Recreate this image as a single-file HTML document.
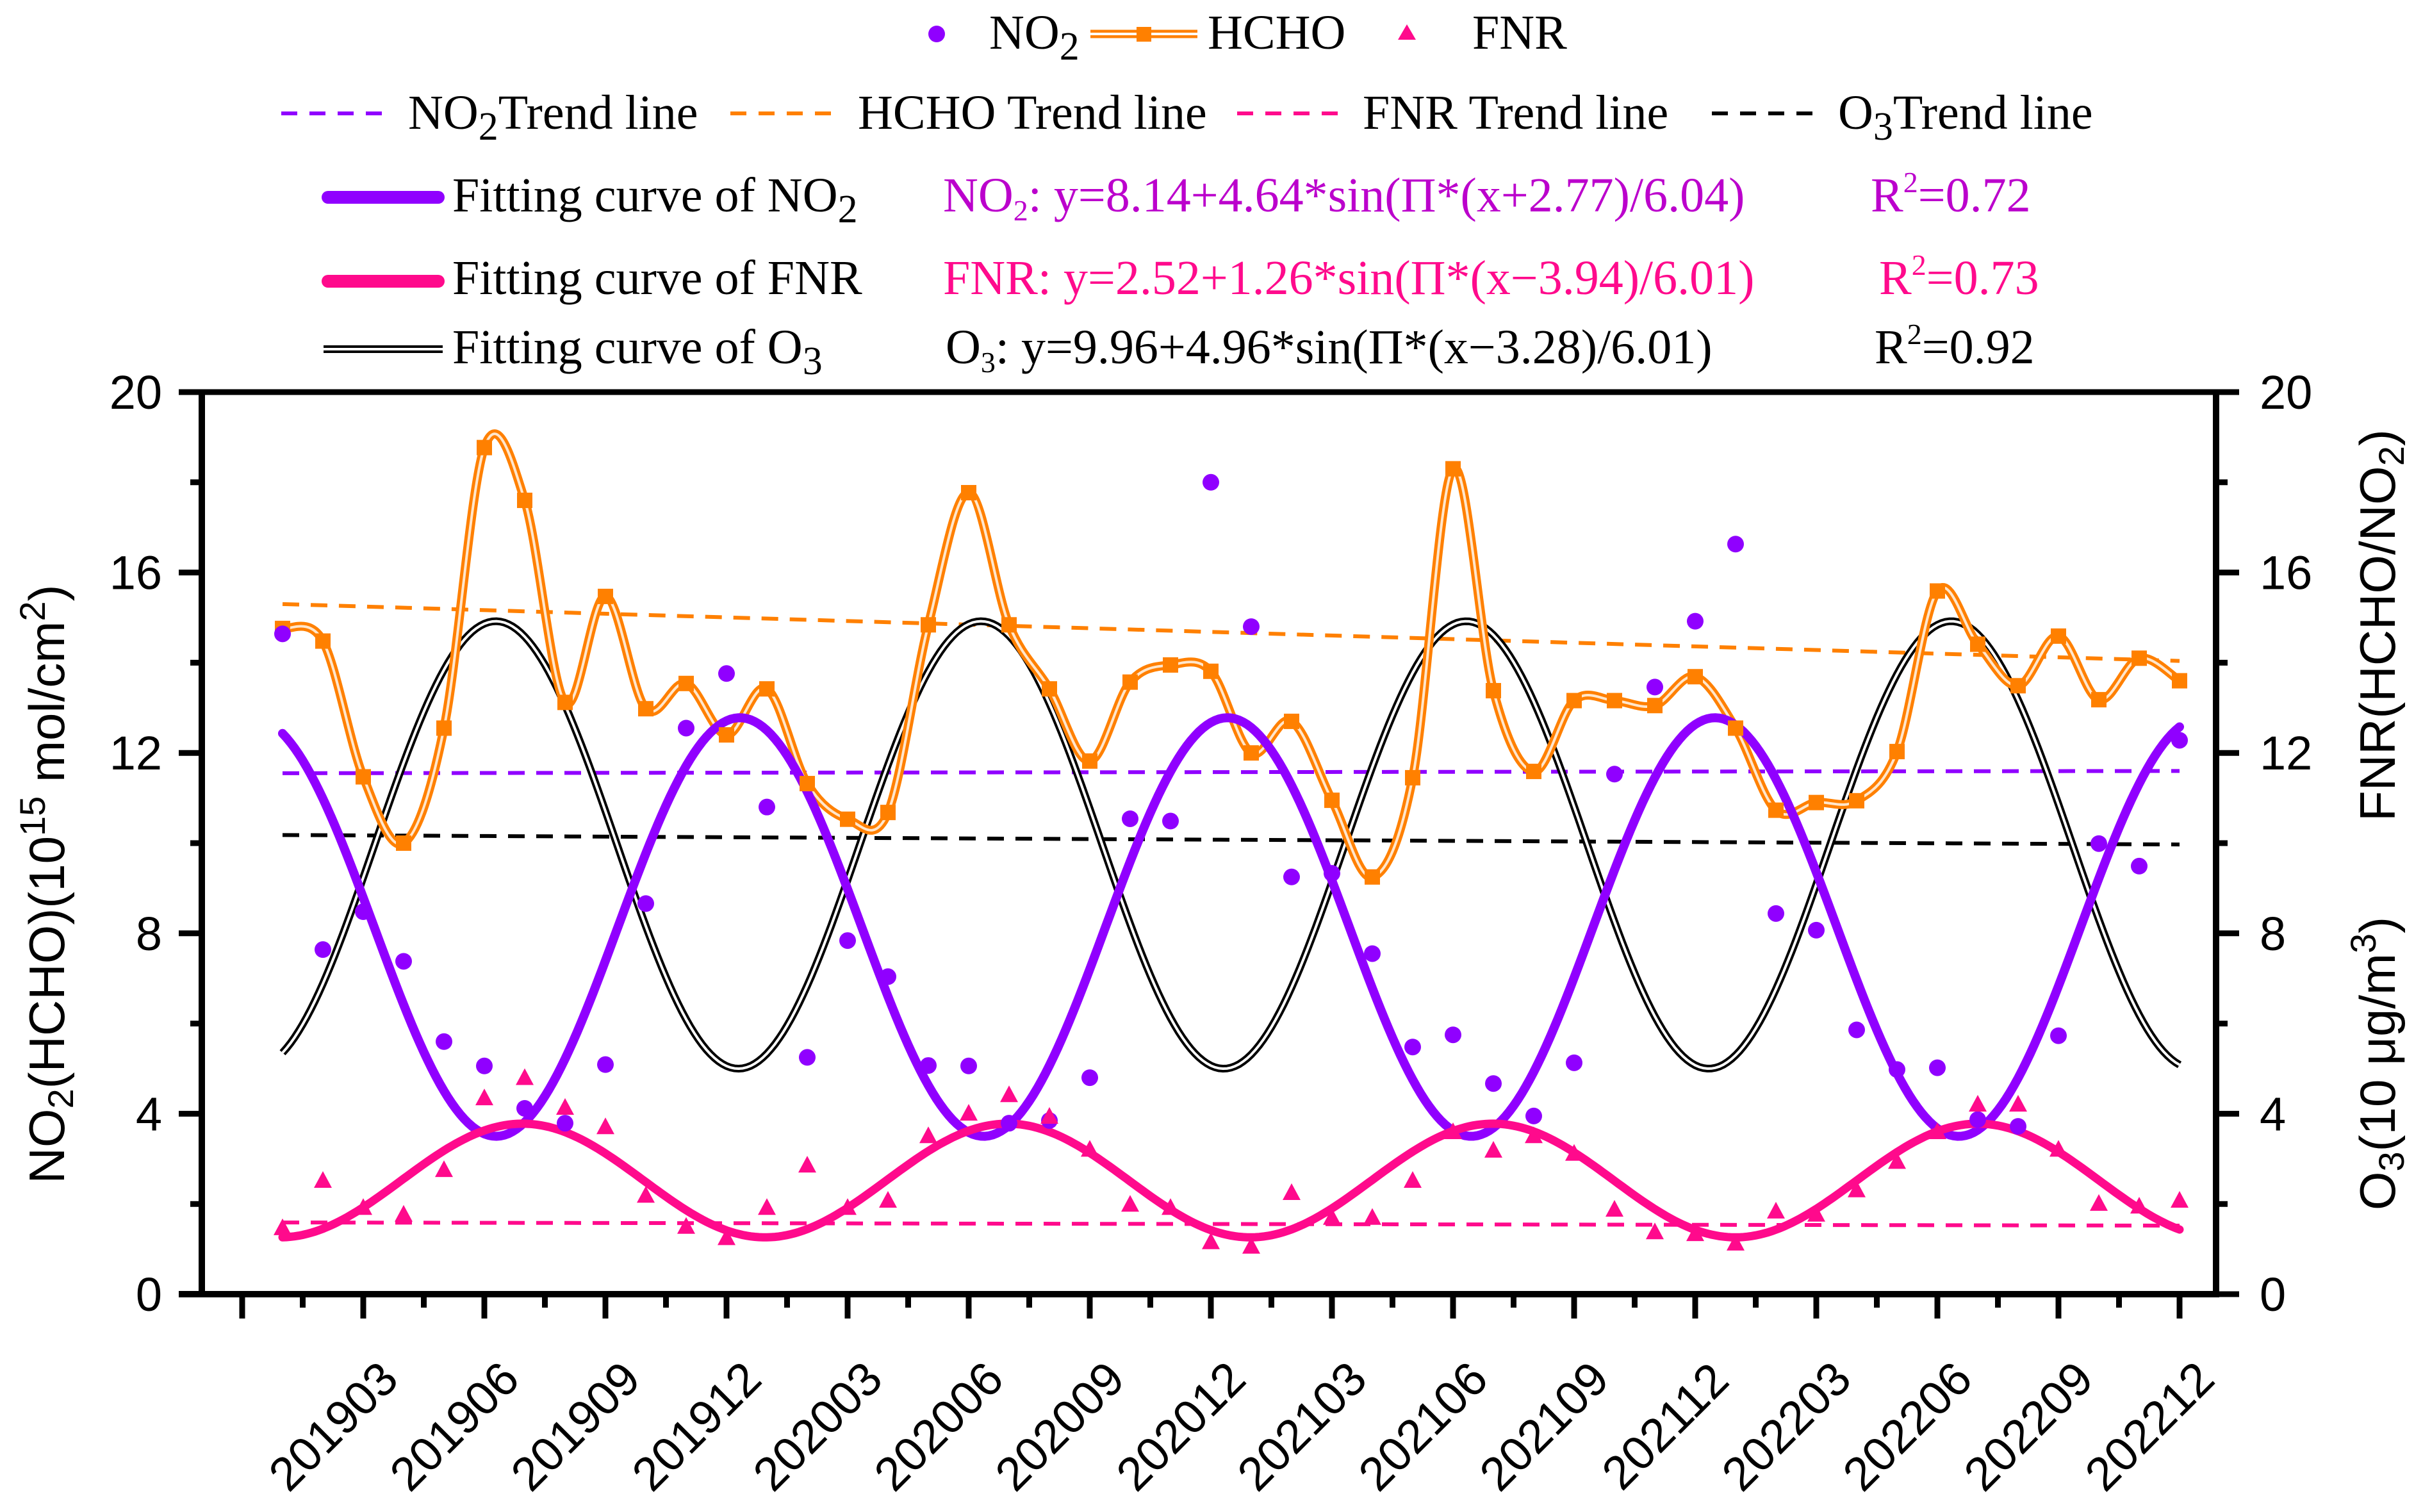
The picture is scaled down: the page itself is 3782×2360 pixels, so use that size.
<!DOCTYPE html>
<html><head><meta charset="utf-8"><style>
html,body{margin:0;padding:0;background:#fff;}
svg{display:block;}
text{font-family:"Liberation Serif",serif;}
.sans{font-family:"Liberation Sans",sans-serif;}
</style></head><body>
<svg id="chart" xmlns="http://www.w3.org/2000/svg" width="3782" height="2360" viewBox="0 0 3782 2360">
<rect width="3782" height="2360" fill="#fff"/>
<g id="legend" font-size="76">
  <g>
    <circle cx="1462" cy="53" r="13" fill="#9000ff"/>
    <text x="1544" y="76">NO<tspan font-size="62" dy="17">2</tspan></text>
  </g>
  <g>
    <line x1="1702" y1="53" x2="1869" y2="53" stroke="#ff8000" stroke-width="13"/>
    <line x1="1702" y1="53" x2="1869" y2="53" stroke="#fff" stroke-width="4"/>
    <rect x="1774" y="42" width="23" height="23" fill="#ff8000"/>
    <text x="1885" y="76">HCHO</text>
  </g>
  <g>
    <polygon points="2196,38 2210,62 2182,62" fill="#ff0a8c"/>
    <text x="2298" y="76">FNR</text>
  </g>
  <g>
    <line x1="439" y1="177" x2="596" y2="177" stroke="#9000ff" stroke-width="6" stroke-dasharray="25 19"/>
    <text x="637" y="201">NO<tspan font-size="62" dy="17">2</tspan><tspan dy="-17">Trend line</tspan></text>
  </g>
  <g>
    <line x1="1140" y1="177" x2="1298" y2="177" stroke="#ff8000" stroke-width="6" stroke-dasharray="25 19"/>
    <text x="1339" y="201">HCHO Trend line</text>
  </g>
  <g>
    <line x1="1931" y1="177" x2="2089" y2="177" stroke="#ff0a8c" stroke-width="6" stroke-dasharray="25 19"/>
    <text x="2127" y="201">FNR Trend line</text>
  </g>
  <g>
    <line x1="2672" y1="177" x2="2829" y2="177" stroke="#000" stroke-width="6" stroke-dasharray="25 19"/>
    <text x="2869" y="201">O<tspan font-size="62" dy="17">3</tspan><tspan dy="-17">Trend line</tspan></text>
  </g>
  <g>
    <line x1="512" y1="308" x2="684" y2="308" stroke="#9000ff" stroke-width="20" stroke-linecap="round"/>
    <text x="706" y="330">Fitting curve of NO<tspan font-size="62" dy="17">2</tspan></text>
  </g>
  <text x="1472" y="330" fill="#bb00cc">NO<tspan font-size="46" dy="14">2</tspan><tspan dy="-14">: y=8.14+4.64*sin(Π*(x+2.77)/6.04)</tspan></text>
  <text x="2920" y="330" fill="#bb00cc">R<tspan font-size="46" dy="-30">2</tspan><tspan dy="30">=0.72</tspan></text>
  <g>
    <line x1="512" y1="439" x2="684" y2="439" stroke="#ff0a8c" stroke-width="20" stroke-linecap="round"/>
    <text x="706" y="459">Fitting curve of FNR</text>
  </g>
  <text x="1472" y="459" fill="#ff0a8c">FNR: y=2.52+1.26*sin(Π*(x−3.94)/6.01)</text>
  <text x="2933" y="459" fill="#ff0a8c">R<tspan font-size="46" dy="-30">2</tspan><tspan dy="30">=0.73</tspan></text>
  <g>
    <line x1="505" y1="545" x2="691" y2="545" stroke="#000" stroke-width="12"/>
    <line x1="505" y1="545" x2="691" y2="545" stroke="#fff" stroke-width="4"/>
    <text x="706" y="567">Fitting curve of O<tspan font-size="62" dy="17">3</tspan></text>
  </g>
  <text x="1476" y="567" fill="#000">O<tspan font-size="46" dy="14">3</tspan><tspan dy="-14">: y=9.96+4.96*sin(Π*(x−3.28)/6.01)</tspan></text>
  <text x="2926" y="567" fill="#000">R<tspan font-size="46" dy="-30">2</tspan><tspan dy="30">=0.92</tspan></text>
</g>
<g id="plot"></g>
<g id="axes"></g>
<text class="sans" font-size="78" text-anchor="middle" transform="translate(100,1380) rotate(-90)">NO<tspan font-size="56" dy="14">2</tspan><tspan dy="-14">(HCHO)(10</tspan><tspan font-size="56" dy="-30">15</tspan><tspan dy="30"> mol/cm</tspan><tspan font-size="56" dy="-30">2</tspan><tspan dy="30">)</tspan></text>
<text class="sans" font-size="78" text-anchor="middle" transform="translate(3738,976) rotate(-90)">FNR(HCHO/NO<tspan font-size="56" dy="14">2</tspan><tspan dy="-14">)</tspan></text>
<text class="sans" font-size="78" text-anchor="middle" transform="translate(3738,1660) rotate(-90)">O<tspan font-size="56" dy="14">3</tspan><tspan dy="-14">(10 μg/m</tspan><tspan font-size="56" dy="-30">3</tspan><tspan dy="30">)</tspan></text>
</svg>
<script>
const categories = ["201901","201902","201903","201904","201905","201906","201907","201908","201909","201910","201911","201912",
"202001","202002","202003","202004","202005","202006","202007","202008","202009","202010","202011","202012",
"202101","202102","202103","202104","202105","202106","202107","202108","202109","202110","202111","202112",
"202201","202202","202203","202204","202205","202206","202207","202208","202209","202210","202211","202212"];
const no2Values = [14.64,7.64,8.48,7.38,5.6,5.06,4.12,3.79,5.09,8.66,12.55,13.76,10.8,5.25,7.84,7.04,
5.07,5.06,3.79,3.85,4.8,10.54,10.49,18.0,14.8,9.25,9.33,7.55,5.48,5.75,4.67,3.95,5.13,11.53,13.46,
14.92,16.63,8.44,8.07,5.86,4.98,5.02,3.87,3.72,5.73,9.99,9.49,12.28];
const hchoValues = [14.76,14.48,11.47,10.0,12.55,18.77,17.6,13.12,15.47,12.98,13.54,12.4,13.42,11.32,10.53,10.68,
14.84,17.77,14.84,13.42,11.82,13.57,13.95,13.81,12.0,12.7,10.95,9.25,11.45,18.3,13.38,11.59,13.16,13.16,13.05,
13.69,12.55,10.73,10.9,10.94,12.03,15.59,14.41,13.49,14.59,13.18,14.1,13.6];
const fnrValues = [1.45,2.5,1.9,1.75,2.74,4.33,4.78,4.12,3.69,2.17,1.48,1.23,1.9,2.84,1.9,2.06,
3.49,3.99,4.4,3.92,3.19,1.97,1.9,1.14,1.04,2.23,1.68,1.68,2.5,3.58,3.17,3.49,3.1,1.86,1.36,
1.32,1.11,1.82,1.75,2.29,2.92,3.58,4.19,4.19,3.19,1.99,1.93,2.06];
const no2Trend = [11.55, 11.6];
const hchoTrend = [15.3, 14.04];
const fnrTrend = [1.59, 1.52];
const o3Trend = [10.18, 9.97];
const no2Fit = [8.14, 4.64, 2.77, 6.04];
const fnrFit = [2.52, 1.26, -3.94, 6.01];
const o3Fit = [9.96, 4.96, -3.28, 6.01];
const yTicks = [0,4,8,12,16,20];

const NS = "http://www.w3.org/2000/svg";
const L=315, R=3459, T=612, B=2020;
const X0=441, DX=63;
function xs(i){ return X0 + DX*i; }
function ys(v){ return B - (B-T)*v/20; }
function mk(tag, attrs, parent){ const e=document.createElementNS(NS,tag); for(const k in attrs) e.setAttribute(k, attrs[k]); parent.appendChild(e); return e; }
const plot = document.getElementById('plot');
const axes = document.getElementById('axes');
const n = categories.length;

// trend lines
function trend(arr, color, name){
  const e = mk('line',{x1:xs(0),y1:ys(arr[0]),x2:xs(n-1),y2:ys(arr[1]),stroke:color,'stroke-width':6,'stroke-dasharray':'26 18'},plot);
  
  
}
trend(hchoTrend,'#ff8000','hcho-trend-line');
trend(no2Trend,'#9000ff','no2-trend-line');
trend(o3Trend,'#000','o3-trend-line');
trend(fnrTrend,'#ff0a8c','fnr-trend-line');

function fitPath(p){
  let d='';
  for(let t=0;t<=(n-1)*10;t++){
    const m=t/10, x=m+1;
    const v=p[0]+p[1]*Math.sin(Math.PI*(x+p[2])/p[3]);
    d+=(t?'L':'M')+xs(m).toFixed(1)+','+ys(v).toFixed(1);
  }
  return d;
}
// O3 fit
let e = mk('path',{d:fitPath(o3Fit),fill:'none',stroke:'#000','stroke-width':12},plot);


e = mk('path',{d:fitPath(o3Fit),fill:'none',stroke:'#fff','stroke-width':4},plot);



// HCHO spline
function spline(vals){
  const p = vals.map((v,i)=>[xs(i),ys(v)]);
  let d='M'+p[0][0]+','+p[0][1];
  for(let i=0;i<p.length-1;i++){
    const p0=p[i-1]||p[i], p1=p[i], p2=p[i+1], p3=p[i+2]||p[i+1];
    const c1=[p1[0]+(p2[0]-p0[0])/6, p1[1]+(p2[1]-p0[1])/6];
    const c2=[p2[0]-(p3[0]-p1[0])/6, p2[1]-(p3[1]-p1[1])/6];
    d+='C'+c1[0].toFixed(1)+','+c1[1].toFixed(1)+' '+c2[0].toFixed(1)+','+c2[1].toFixed(1)+' '+p2[0].toFixed(1)+','+p2[1].toFixed(1);
  }
  return d;
}
e = mk('path',{d:spline(hchoValues),fill:'none',stroke:'#ff8000','stroke-width':14},plot);


e = mk('path',{d:spline(hchoValues),fill:'none',stroke:'#fff','stroke-width':4,'stroke-opacity':0.8},plot);



// fits
e = mk('path',{d:fitPath(no2Fit),fill:'none',stroke:'#9000ff','stroke-width':14,'stroke-linecap':'round'},plot);


e = mk('path',{d:fitPath(fnrFit),fill:'none',stroke:'#ff0a8c','stroke-width':13,'stroke-linecap':'round'},plot);



// markers
hchoValues.forEach((v,i)=>{
  const r = mk('rect',{x:xs(i)-12,y:ys(v)-12,width:24,height:24,fill:'#ff8000'},plot);
  
  
});
no2Values.forEach((v,i)=>{
  const c = mk('circle',{cx:xs(i),cy:ys(v),r:13,fill:'#9000ff'},plot);
  
  
});
fnrValues.forEach((v,i)=>{
  const x=xs(i), y=ys(v);
  const t = mk('polygon',{points:`${x},${y-16} ${x+14},${y+10} ${x-14},${y+10}`,fill:'#ff0a8c'},plot);
  
  
});

// axes frame
e = mk('line',{x1:L-36,y1:T,x2:R+36,y2:T,stroke:'#000','stroke-width':9},axes);


e = mk('line',{x1:L-36,y1:B,x2:R+5,y2:B,stroke:'#000','stroke-width':10},axes);


e = mk('line',{x1:L,y1:T-4,x2:L,y2:B+5,stroke:'#000','stroke-width':10},axes);


e = mk('line',{x1:R,y1:T-4,x2:R,y2:B+5,stroke:'#000','stroke-width':10},axes);



// y ticks
for(let v=0; v<=20; v+=2){
  const major = yTicks.indexOf(v)>=0;
  const len = major?36:18;
  e = mk('line',{x1:L-len,y1:ys(v),x2:L,y2:ys(v),stroke:'#000','stroke-width':9},axes);
  
  
  e = mk('line',{x1:R,y1:ys(v),x2:R+len,y2:ys(v),stroke:'#000','stroke-width':9},axes);
  
  
}
yTicks.forEach(v=>{
  let t = mk('text',{x:253,y:ys(v)+26,'text-anchor':'end','font-size':74,class:'sans'},axes);
  t.textContent = v;
  
  
  t = mk('text',{x:3527,y:ys(v)+26,'text-anchor':'start','font-size':74,class:'sans'},axes);
  t.textContent = v;
  
  
});

// x ticks: major every 3 months starting at index -1, minor halfway
for(let m=-1; m<n; m+=3){
  e = mk('line',{x1:xs(m),y1:B,x2:xs(m),y2:B+38,stroke:'#000','stroke-width':9},axes);
  
  
  if(m+1.5<n){
    e = mk('line',{x1:xs(m+1.5),y1:B,x2:xs(m+1.5),y2:B+21,stroke:'#000','stroke-width':9},axes);
    
    
  }
  if(m>=0){
    const t = mk('text',{'text-anchor':'middle','dominant-baseline':'central','font-size':74,class:'sans',
      transform:`translate(${xs(m)-47},2226) rotate(-45)`},axes);
    t.textContent = categories[m];
    
    
  }
}
</script>
</body></html>
